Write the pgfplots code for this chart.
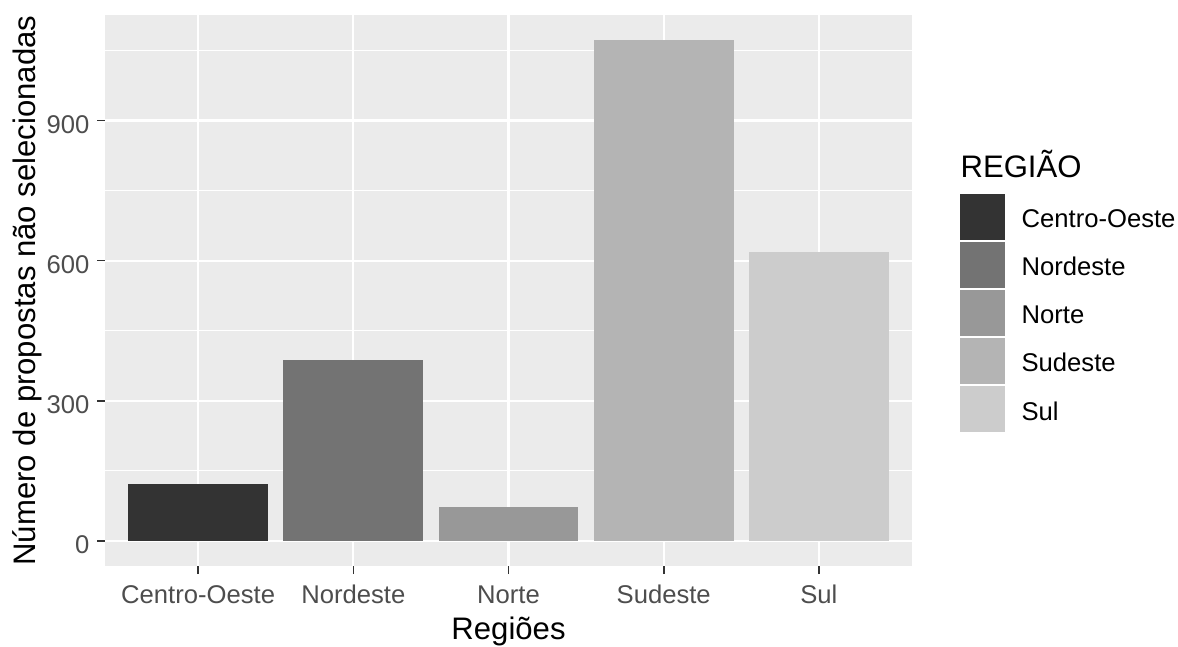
\documentclass[border=0pt]{standalone}
\usepackage{fontspec}
\setmainfont{Liberation Sans}
\usepackage{pgfplots}
\pgfplotsset{compat=1.18}
\definecolor{panel}{HTML}{EBEBEB}
\definecolor{c1}{HTML}{333333}
\definecolor{c2}{HTML}{737373}
\definecolor{c3}{HTML}{989898}
\definecolor{c4}{HTML}{B4B4B4}
\definecolor{c5}{HTML}{CCCCCC}
\definecolor{tickcol}{HTML}{4D4D4D}
\definecolor{tickline}{HTML}{333333}
\pgfplotsset{
  mybar/.style={ybar, bar width=0.9, bar shift=0pt, draw=none,
    legend image code/.code={\fill[##1, draw=none] (0pt,-6.8pt) rectangle (15.6pt,9.2pt);}},
}
\begin{document}
\begin{tikzpicture}
\path[use as bounding box] (0,0) rectangle (409.0pt,224.3pt);
\begin{axis}[
  at={(36.46pt,27.78pt)}, anchor=south west,
  scale only axis, width=280.2pt, height=191.3pt,
  xmin=0.4, xmax=5.6, ymin=-53.6, ymax=1125.6,
  axis x line*=bottom, axis y line*=left,
  axis line style={draw=none},
  axis background/.style={fill=panel},
  tick align=outside, major tick length=2.78pt, minor tick length=0pt,
  tick style={color=tickline, line width=0.55pt},
  xtick={1,2,3,4,5},
  xticklabels={Centro-Oeste,Nordeste,Norte,Sudeste,Sul},
  ytick={0,300,600,900},
  minor ytick={150,450,750,1050},
  grid=both,
  major grid style={white, line width=0.75pt},
  minor grid style={white, line width=0.4pt},
  /pgf/number format/assume math mode=true,
  ticklabel style={font=\fontsize{8.9}{10}\selectfont, text=tickcol, inner sep=0pt},
  xticklabel style={anchor=base, yshift=-10.17pt},
  yticklabel style={anchor=east, xshift=-2.43pt, yshift=-1.3pt},
  xlabel={Regiões},
  ylabel={Número de propostas não selecionadas},
  label style={font=\fontsize{10.8}{13}\selectfont, inner sep=0pt},
  xlabel style={at={([yshift=-25.35pt]axis description cs:0.5,0)}, anchor=base},
  ylabel style={at={([xshift=-24.06pt]axis description cs:0,0.5)}, anchor=base, rotate=0},
  legend style={at={(1.0594,0.675)}, anchor=north west, draw=none, fill=none,
    inner sep=0pt, outer sep=0pt, row sep=0.69pt, column sep=5.8pt,
    font=\fontsize{8.9}{10}\selectfont, nodes={inner sep=0pt}},
  legend cell align=left,
]
\addplot[mybar, fill=c1] coordinates {(1,121)};
\addlegendentry{Centro-Oeste}
\addplot[mybar, fill=c2] coordinates {(2,387)};
\addlegendentry{Nordeste}
\addplot[mybar, fill=c3] coordinates {(3,72)};
\addlegendentry{Norte}
\addplot[mybar, fill=c4] coordinates {(4,1072)};
\addlegendentry{Sudeste}
\addplot[mybar, fill=c5] coordinates {(5,619)};
\addlegendentry{Sul}
\end{axis}
\node[anchor=base west, inner sep=0pt, font=\fontsize{10.8}{13}\selectfont] at (333.3pt,162.7pt) {REGIÃO};
\end{tikzpicture}
\end{document}
